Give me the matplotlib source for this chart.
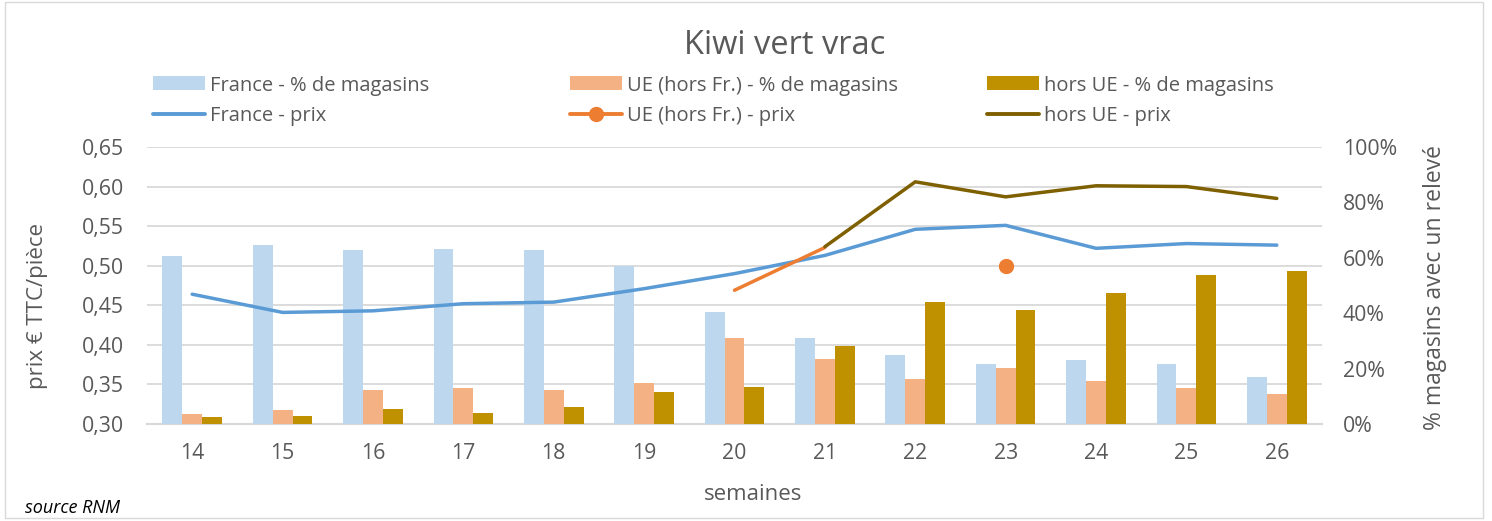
import numpy as np
import matplotlib
matplotlib.use("Agg")
import matplotlib.pyplot as plt
from matplotlib.patches import Rectangle
from matplotlib.lines import Line2D
from matplotlib.ticker import FuncFormatter

plt.rcParams['font.family'] = ['Open Sans', 'DejaVu Sans']

weeks = ["14", "15", "16", "17", "18", "19", "20", "21", "22", "23", "24", "25", "26"]
france_pct = [60.5, 64.6, 62.7, 63.2, 62.7, 57.1, 40.4, 31.0, 24.9, 21.5, 23.0, 21.5, 16.9]
ue_pct = [3.7, 4.9, 12.2, 13.0, 12.2, 14.8, 31.0, 23.5, 16.1, 20.2, 15.5, 12.9, 10.7]
horsue_pct = [2.4, 2.9, 5.4, 4.0, 6.1, 11.4, 13.5, 28.2, 43.9, 41.2, 47.2, 53.9, 55.2]
france_prix = [0.464, 0.441, 0.443, 0.452, 0.454, 0.471, 0.490, 0.513, 0.546, 0.551, 0.522, 0.528, 0.526]
ue_prix = [np.nan] * 6 + [0.469, 0.523, np.nan, 0.500, np.nan, np.nan, np.nan]
horsue_prix = [np.nan] * 7 + [0.524, 0.606, 0.587, 0.601, 0.600, 0.585]

c_fr_bar, c_ue_bar, c_hue_bar = "#BDD7EE", "#F4B183", "#BF9000"
c_fr_line, c_ue_line, c_hue_line = "#5B9BD5", "#ED7D31", "#7F6000"
txt = "#595959"

W, H = 1492, 521
fig = plt.figure(figsize=(W / 100, H / 100), dpi=100)


def fx(px):
    return px / W


def fy(py):
    return 1 - py / H


fig.add_artist(Rectangle((fx(5), fy(518)), fx(1483) - fx(5), fy(2) - fy(518),
                         transform=fig.transFigure, fill=False, edgecolor="#D9D9D9", linewidth=1))

rect = [fx(147), fy(424), fx(1322) - fx(147), fy(147) - fy(424)]
x = np.arange(len(weeks))
fs_tick = 15.3

# grid / base axes (left scale)
ax0 = fig.add_axes(rect)
ax0.set_xlim(-0.5, len(weeks) - 0.5)
ax0.set_ylim(0.30, 0.65)
ax0.set_yticks(np.round(np.arange(0.30, 0.651, 0.05), 2))
ax0.yaxis.set_major_formatter(FuncFormatter(lambda v, p: f"{v:.2f}".replace(".", ",")))
ax0.set_xticks(x)
ax0.set_xticklabels(weeks)
ax0.grid(axis="y", color="#D9D9D9", linewidth=1.3)
ax0.set_axisbelow(True)
for s in ["top", "right", "left"]:
    ax0.spines[s].set_visible(False)
ax0.spines["bottom"].set_color("#D9D9D9")
ax0.spines["bottom"].set_linewidth(1.6)
ax0.tick_params(axis="both", length=0, labelsize=fs_tick, labelcolor=txt)
ax0.tick_params(axis="y", pad=16.5)
ax0.tick_params(axis="x", pad=14)

# bars (right scale)
axb = fig.add_axes(rect, sharex=ax0)
axb.patch.set_visible(False)
axb.set_ylim(0, 100)
w = 0.22
axb.bar(x - w, france_pct, w, color=c_fr_bar, zorder=2)
axb.bar(x, ue_pct, w, color=c_ue_bar, zorder=2)
axb.bar(x + w, horsue_pct, w, color=c_hue_bar, zorder=2)
axb.yaxis.tick_right()
axb.set_yticks(np.arange(0, 101, 20))
axb.yaxis.set_major_formatter(FuncFormatter(lambda v, p: f"{v:.0f}%"))
axb.tick_params(axis="y", length=0, labelsize=fs_tick, labelcolor=txt, pad=15)
axb.tick_params(axis="x", bottom=False, labelbottom=False)
for s in axb.spines.values():
    s.set_visible(False)

# lines (left scale)
axl = fig.add_axes(rect, sharex=ax0)
axl.patch.set_visible(False)
axl.set_ylim(0.30, 0.65)
axl.axis("off")
lw = 2.5
axl.plot(x, france_prix, color=c_fr_line, lw=lw, solid_capstyle="round")
axl.plot(x, ue_prix, color=c_ue_line, lw=lw, solid_capstyle="round")
axl.plot(x, horsue_prix, color=c_hue_line, lw=lw, solid_capstyle="round")
ue_arr = np.array(ue_prix)
isolated = [i for i in range(len(ue_arr)) if not np.isnan(ue_arr[i])
            and (i == 0 or np.isnan(ue_arr[i - 1]))
            and (i == len(ue_arr) - 1 or np.isnan(ue_arr[i + 1]))]
axl.plot(x[isolated], ue_arr[isolated], "o", color=c_ue_line, markersize=10, linestyle="none")

# texts
fig.text(0.5 + fx(39), fy(45), "Kiwi vert vrac", ha="center", va="center", fontsize=23.5, color=txt)
fig.text(fx(38), fy(306), "prix € TTC/pièce", ha="center", va="center", rotation=90,
         fontsize=16, color=txt)
fig.text(fx(1435), fy(288), "% magasins avec un relevé", ha="center", va="center", rotation=90,
         fontsize=16.5, color=txt)
fig.text(fx(753), fy(495), "semaines", ha="center", va="center", fontsize=16, color=txt)
fig.text(fx(25), fy(508), "source RNM", ha="left", va="center", fontsize=13,
         style="italic", color="black")

# legend (manual)
leg_x = [153, 570, 987]
bar_cols = [c_fr_bar, c_ue_bar, c_hue_bar]
line_cols = [c_fr_line, c_ue_line, c_hue_line]
bar_labels = ["France - % de magasins", "UE (hors Fr.) - % de magasins", "hors UE - % de magasins"]
line_labels = ["France - prix", "UE (hors Fr.) - prix", "hors UE - prix"]
row1, row2 = 83, 114
hw = 52
for i, px in enumerate(leg_x):
    fig.add_artist(Rectangle((fx(px), fy(row1 + 7)), fx(px + hw) - fx(px), fy(row1 - 7) - fy(row1 + 7),
                             transform=fig.transFigure, color=bar_cols[i], linewidth=0))
    fig.add_artist(Line2D([fx(px), fx(px + hw)], [fy(row2), fy(row2)], transform=fig.transFigure,
                          color=line_cols[i], lw=lw + 0.3, solid_capstyle="round"))
    if i == 1:
        fig.add_artist(Line2D([fx(px + hw / 2)], [fy(row2)], transform=fig.transFigure,
                              color=line_cols[i], marker="o", markersize=10, linestyle="none"))
    fig.text(fx(px + hw + 5), fy(row1), bar_labels[i], ha="left", va="center_baseline",
             fontsize=14.5, color=txt)
    fig.text(fx(px + hw + 5), fy(row2), line_labels[i], ha="left", va="center_baseline",
             fontsize=14.5, color=txt)

fig.savefig("out.png", dpi=100)
